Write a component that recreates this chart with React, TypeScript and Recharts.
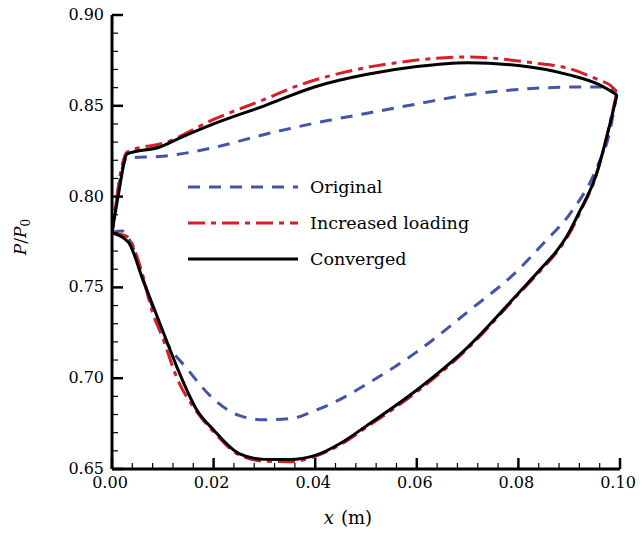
import React from 'react';
import { LineChart, Line, XAxis, YAxis, Legend } from 'recharts';

// ---- Data; each blade profile = upper + lower surface ----
const originalUpperX = [0, 0.003, 0.01, 0.02, 0.03, 0.04, 0.05, 0.06, 0.07, 0.08, 0.09, 0.096, 0.0994];
const originalUpperY = [0.7805, 0.8213, 0.8222, 0.827, 0.8342, 0.8405, 0.8458, 0.851, 0.856, 0.859, 0.8603, 0.8604, 0.8576];
const originalLowerX = [0, 0.002, 0.0035, 0.007, 0.01, 0.015, 0.02, 0.025, 0.03, 0.035, 0.04, 0.045, 0.05, 0.06, 0.07, 0.08, 0.085, 0.09, 0.0955, 0.098, 0.0994];
const originalLowerY = [0.7805, 0.781, 0.776, 0.747, 0.7238, 0.7045, 0.6885, 0.6795, 0.6771, 0.6777, 0.6822, 0.6885, 0.6965, 0.7145, 0.7365, 0.7597, 0.7745, 0.79, 0.8163, 0.836, 0.8576];

const increasedUpperX = [0, 0.003, 0.0108, 0.02, 0.03, 0.037, 0.045, 0.0567, 0.07, 0.083, 0.09, 0.096, 0.098, 0.0994];
const increasedUpperY = [0.78, 0.8246, 0.83, 0.8425, 0.8535, 0.8615, 0.868, 0.874, 0.8769, 0.8736, 0.8705, 0.864, 0.8615, 0.8576];
const increasedLowerX = [0, 0.003, 0.0055, 0.008, 0.01, 0.0128, 0.0167, 0.02, 0.025, 0.03, 0.035, 0.04, 0.045, 0.05, 0.06, 0.07, 0.08, 0.085, 0.0875, 0.09, 0.0925, 0.095, 0.0994];
const increasedLowerY = [0.78, 0.778, 0.762, 0.736, 0.722, 0.7, 0.6815, 0.6705, 0.6578, 0.6543, 0.654, 0.657, 0.6635, 0.6728, 0.6925, 0.7163, 0.7462, 0.7612, 0.7692, 0.7795, 0.7935, 0.809, 0.8576];

const convergedUpperX = [0, 0.0012, 0.003, 0.0094, 0.0134, 0.02, 0.03, 0.04, 0.05, 0.06, 0.07, 0.08, 0.09, 0.096, 0.0994];
const convergedUpperY = [0.78, 0.8, 0.8235, 0.8273, 0.8323, 0.84, 0.85, 0.8605, 0.8672, 0.8716, 0.8737, 0.8722, 0.867, 0.8615, 0.856];
const convergedLowerX = [0, 0.0032, 0.0061, 0.01, 0.0128, 0.0167, 0.02, 0.025, 0.03, 0.035, 0.04, 0.045, 0.05, 0.06, 0.07, 0.08, 0.085, 0.0875, 0.0896, 0.092, 0.095, 0.0994];
const convergedLowerY = [0.78, 0.775, 0.754, 0.726, 0.706, 0.6825, 0.6715, 0.6585, 0.6553, 0.6552, 0.6575, 0.6642, 0.6736, 0.6935, 0.717, 0.7468, 0.762, 0.77, 0.7785, 0.7915, 0.8095, 0.856];

const xTicks = [0, 0.004, 0.008, 0.012, 0.016, 0.02, 0.024, 0.028, 0.032, 0.036, 0.04, 0.044, 0.048, 0.052, 0.056, 0.06, 0.064, 0.068, 0.072, 0.076, 0.08, 0.084, 0.088, 0.092, 0.096, 0.1];
const xMajor = [0, 0.02, 0.04, 0.06, 0.08, 0.1];
const yTicks = [0.65, 0.66, 0.67, 0.68, 0.69, 0.7, 0.71, 0.72, 0.73, 0.74, 0.75, 0.76, 0.77, 0.78, 0.79, 0.8, 0.81, 0.82, 0.83, 0.84, 0.85, 0.86, 0.87, 0.88, 0.89, 0.9];
const yMajor = [0.65, 0.7, 0.75, 0.8, 0.85, 0.9];

const zip = (xs: number[], ys: number[]) => xs.map((x, i) => ({ x, y: ys[i] }));

const series = [
  { name: 'Original', parts: [zip(originalUpperX, originalUpperY), zip(originalLowerX, originalLowerY)], color: '#4255a8', dash: '12 9' as string | undefined },
  { name: 'Increased loading', parts: [zip(increasedUpperX, increasedUpperY), zip(increasedLowerX, increasedLowerY)], color: '#d61f26', dash: '17 6 5 6' as string | undefined },
  { name: 'Converged', parts: [zip(convergedUpperX, convergedUpperY), zip(convergedLowerX, convergedLowerY)], color: '#000000', dash: undefined as string | undefined },
];

const FONT = '"DejaVu Serif", "Liberation Serif", serif';
const isMajor = (v: number, majors: number[]) => majors.some((m) => Math.abs(m - v) < 1e-9);

const XTick = (props: any) => {
  const { x, y, payload } = props;
  const major = isMajor(payload.value, xMajor);
  return (
    <g>
      <line x1={x} y1={y} x2={x} y2={y - (major ? 11 : 6)} stroke="#000" strokeWidth={major ? 2.5 : 1.2} />
      {major && (
        <text x={x - 2} y={y + 19} textAnchor="middle" fontFamily={FONT} fontSize={16} fill="#000">
          {payload.value.toFixed(2)}
        </text>
      )}
    </g>
  );
};

const YTick = (props: any) => {
  const { x, y, payload } = props;
  const major = isMajor(payload.value, yMajor);
  return (
    <g>
      <line x1={x} y1={y} x2={x + (major ? 11 : 6)} y2={y} stroke="#000" strokeWidth={major ? 2.5 : 1.2} />
      {major && (
        <text x={x - 8} y={y + 5} textAnchor="end" fontFamily={FONT} fontSize={16} fill="#000">
          {payload.value.toFixed(2)}
        </text>
      )}
    </g>
  );
};

const LegendBox = () => (
  <svg width={320} height={110} style={{ overflow: 'visible' }}>
    {series.map((s, i) => (
      <g key={s.name}>
        <line x1={8} x2={118} y1={17 + i * 36} y2={17 + i * 36} stroke={s.color} strokeWidth={3} strokeDasharray={s.dash} />
        <text x={130} y={23 + i * 36} fontFamily={FONT} fontSize={17.5} fill="#000">
          {s.name}
        </text>
      </g>
    ))}
  </svg>
);

export default function App() {
  return (
    <div style={{ position: 'absolute', left: 0, top: 0, width: 642, height: 535, background: '#fff' }}>
      <LineChart width={642} height={535} margin={{ top: 15, right: 22, bottom: 36, left: 52 }}>
        <XAxis
          dataKey="x"
          type="number"
          domain={[0, 0.1]}
          ticks={xTicks}
          interval={0}
          tickSize={0}
          tickMargin={0}
          tickLine={false}
          tick={<XTick />}
          height={30}
          axisLine={{ stroke: '#000', strokeWidth: 3 }}
          allowDataOverflow
          label={{
            content: () => (
              <text x={348} y={524} textAnchor="middle" fontFamily={FONT} fontSize={18} fill="#000">
                <tspan fontStyle="italic">x</tspan>
                <tspan dx={7}>(m)</tspan>
              </text>
            ),
          }}
        />
        <YAxis
          type="number"
          domain={[0.65, 0.9]}
          ticks={yTicks}
          interval={0}
          tickSize={0}
          tickMargin={0}
          tickLine={false}
          tick={<YTick />}
          width={60}
          axisLine={{ stroke: '#000', strokeWidth: 3 }}
          allowDataOverflow
          label={{
            content: () => (
              <text transform="translate(26,237) rotate(-90)" textAnchor="middle" fontFamily={FONT} fontSize={17} fill="#000">
                <tspan fontStyle="italic">P</tspan>
                <tspan>/</tspan>
                <tspan fontStyle="italic">P</tspan>
                <tspan fontSize={12} dy={4}>0</tspan>
              </text>
            ),
          }}
        />
        {series.flatMap((s) =>
          s.parts.map((part, j) => (
            <Line
              key={`${s.name}-${j}`}
              data={part}
              dataKey="y"
              name={s.name}
              type="monotoneX"
              stroke={s.color}
              strokeWidth={3}
              strokeDasharray={s.dash}
              dot={false}
              activeDot={false}
              isAnimationActive={false}
            />
          ))
        )}
        <Legend
          layout="vertical"
          align="center"
          verticalAlign="middle"
          content={<LegendBox />}
          wrapperStyle={{ position: 'absolute', left: 180, top: 170, width: 320, height: 110 }}
        />
      </LineChart>
    </div>
  );
}
